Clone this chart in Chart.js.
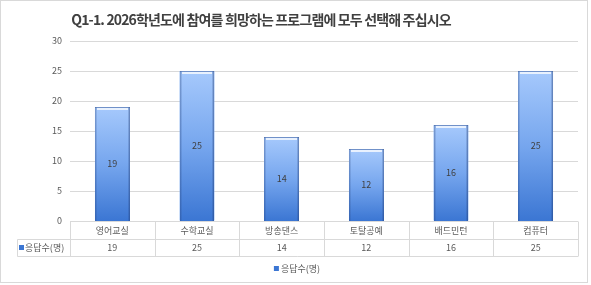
<!DOCTYPE html>
<html><head><meta charset="utf-8">
<script src="https://cdn.jsdelivr.net/npm/chart.js@4/dist/chart.umd.min.js"></script>
<style>
html,body{margin:0;padding:0;background:#fff;}
#wrap{position:relative;width:591px;height:285px;}
</style></head>
<body><div id="wrap"><canvas id="c" width="591" height="285"></canvas></div>
<script>
const titleText = 'Q1-1. 2026학년도에 참여를 희망하는 프로그램에 모두 선택해 주십시오';
const categories = ['영어교실','수학교실','방송댄스','토탈공예','배드민턴','컴퓨터'];
const seriesName = '응답수(명)';
const values = [19,25,14,12,16,25];
const yTicks = [0,5,10,15,20,25,30];

const FONT = '"Noto Sans CJK KR", "Noto Sans", sans-serif';
const GRID = '#d9d9d9';
const TXT = '#595959';

const frame = {
  id:'frame',
  beforeDraw(chart){
    const ctx = chart.ctx;
    ctx.save();
    ctx.fillStyle='#fff';
    ctx.fillRect(0,0,chart.width,chart.height);
    ctx.strokeStyle='#d9d9d9';
    ctx.lineWidth=1;
    ctx.strokeRect(0.5,0.5,587,282);
    ctx.fillStyle='#404040';
    ctx.font='bold 14px '+FONT;
    ctx.letterSpacing='-0.85px';
    ctx.textAlign='center';
    ctx.textBaseline='middle';
    ctx.fillText(titleText, 261, 20);
    ctx.restore();
  }
};

const barStyle = {
  id:'barStyle',
  afterDatasetsDraw(chart){
    const ctx = chart.ctx;
    const meta = chart.getDatasetMeta(0);
    ctx.save();
    meta.data.forEach((bar,i)=>{
      const w = bar.width, x0 = Math.round(bar.x - w/2), x1 = Math.round(bar.x + w/2);
      const top = Math.round(bar.y), bot = Math.round(bar.base);
      const g = ctx.createLinearGradient(0,top,0,bot);
      g.addColorStop(0,'#a6c9fc');
      g.addColorStop(0.5,'#76a6ee');
      g.addColorStop(1,'#3b76d3');
      ctx.fillStyle=g;
      ctx.fillRect(x0,top,x1-x0,bot-top);
      const gl = ctx.createLinearGradient(x0,0,x1,0);
      gl.addColorStop(0,'rgba(40,70,130,0.45)');
      gl.addColorStop(0.07,'rgba(40,70,130,0.0)');
      gl.addColorStop(0.93,'rgba(40,70,130,0.0)');
      gl.addColorStop(1,'rgba(30,55,110,0.55)');
      ctx.fillStyle=gl;
      ctx.fillRect(x0,top,x1-x0,bot-top);
      ctx.fillStyle='rgba(255,255,255,0.75)';
      ctx.fillRect(x0+2,top+1,x1-x0-4,2);
      ctx.fillStyle='rgba(60,90,150,0.5)';
      ctx.fillRect(x0,top,x1-x0,1);
      ctx.fillStyle='#404040';
      ctx.font='9px '+FONT;
      ctx.textAlign='center';
      ctx.textBaseline='middle';
      ctx.fillText(String(values[i]), bar.x, (top+bot)/2);
    });
    ctx.restore();
  }
};

const table = {
  id:'table',
  afterDraw(chart){
    const ctx = chart.ctx;
    const xs = chart.scales.x;
    const area = chart.chartArea;
    const n = categories.length;
    const step = (area.right-area.left)/n;
    const y0 = Math.round(area.bottom)+0.5, y1 = y0+18, y2 = y1+17;
    const L = 17.5;
    ctx.save();
    ctx.strokeStyle=GRID; ctx.lineWidth=1;
    ctx.beginPath();
    ctx.moveTo(area.left,y0); ctx.lineTo(area.right,y0);
    ctx.moveTo(L,y1); ctx.lineTo(area.right,y1);
    ctx.moveTo(L,y2); ctx.lineTo(area.right,y2);
    ctx.moveTo(L,y1); ctx.lineTo(L,y2);
    for(let i=0;i<=n;i++){
      const x = Math.round(area.left+i*step)+0.5;
      ctx.moveTo(x,y0); ctx.lineTo(x,y2);
    }
    ctx.stroke();
    ctx.font='9px '+FONT;
    ctx.fillStyle=TXT;
    ctx.textAlign='center';
    ctx.textBaseline='middle';
    categories.forEach((c,i)=>{
      const x = xs.getPixelForValue(i);
      ctx.fillText(c, x, (y0+y1)/2);
      ctx.fillText(String(values[i]), x, (y1+y2)/2);
    });
    ctx.textAlign='left';
    ctx.fillStyle='#3b76d3';
    ctx.fillRect(19,(y1+y2)/2-3,5,5);
    ctx.fillStyle=TXT;
    ctx.fillText(seriesName, 25, (y1+y2)/2);
    const tw = ctx.measureText(seriesName).width;
    const lx = 297 - (tw+7)/2;
    ctx.fillStyle='#3b76d3';
    ctx.fillRect(lx,266,5,5);
    ctx.fillStyle=TXT;
    ctx.fillText(seriesName, lx+7, 268.5);
    ctx.restore();
  }
};

new Chart(document.getElementById('c'),{
  type:'bar',
  data:{labels:categories,datasets:[{label:seriesName,data:values,backgroundColor:'#76a6ee',borderWidth:0,categoryPercentage:1,barPercentage:0.41}]},
  options:{
    responsive:false,animation:false,
    layout:{padding:{top:41,bottom:64,left:0,right:13}},
    plugins:{legend:{display:false},title:{display:false},tooltip:{enabled:false}},
    scales:{
      x:{display:false},
      y:{min:0,max:30,
        afterFit(s){s.width=70;},
        afterBuildTicks(s){s.ticks=yTicks.map(v=>({value:v}));},
        grid:{color:GRID,drawTicks:false},
        border:{display:false},
        ticks:{color:TXT,font:{size:9,family:FONT},padding:8}
      }
    }
  },
  plugins:[frame,barStyle,table]
});
</script></body></html>
